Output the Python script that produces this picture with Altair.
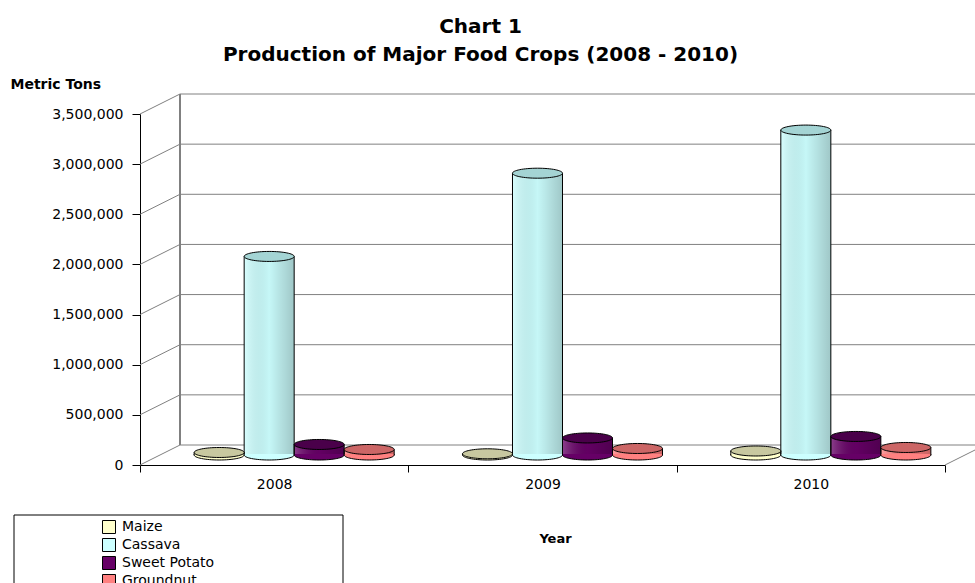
import altair as alt
import pandas as pd

# Production of major food crops, metric tons
years = ["2008", "2009", "2010"]
crops = ["Maize", "Cassava", "Sweet Potato", "Groundnut"]
maize = [25000, 12000, 40000]
cassava = [1980000, 2810000, 3240000]
sweet_potato = [105000, 170000, 185000]
groundnut = [55000, 65000, 75000]

crop_colors = ["#FFFFCC", "#CCFFFF", "#660066", "#FF8080"]
cap_colors = ["#C8C8A0", "#A4D4D4", "#4A004A", "#CC6666"]
y_ticks = [0, 500000, 1000000, 1500000, 2000000, 2500000, 3000000, 3500000]

series = {"Maize": maize, "Cassava": cassava,
          "Sweet Potato": sweet_potato, "Groundnut": groundnut}
df = pd.DataFrame([
    {"Year": y, "Crop": c, "Tons": vals[i]}
    for c, vals in series.items() for i, y in enumerate(years)
])
ticks_df = pd.DataFrame({"v": y_ticks})
one_df = pd.DataFrame({"k": [0]})

FONT = "DejaVu Sans"
W, H = 805, 351
DX, DY = 40, -20          # depth of the back wall
GREY = "#808080"

y_scale = alt.Scale(domain=[0, 3500000], nice=False, zero=True)
y_axis = alt.Axis(
    values=y_ticks, labelExpr="format(datum.value, ',')", grid=False,
    labelFont=FONT, labelFontSize=14, labelColor="black", labelPadding=9,
    tickColor="black", tickSize=8, domainColor="black",
    title="Metric Tons", titleAngle=0, titleAlign="left",
    titleBaseline="alphabetic", titleX=-130, titleY=-26,
    titleFont=FONT, titleFontSize=14, titleFontWeight="bold", titleColor="black",
)


def y_enc(field):
    return alt.Y(field, type="quantitative", scale=y_scale, axis=y_axis)


def y_datum(v):
    return alt.Y(datum=v, type="quantitative", scale=y_scale, axis=y_axis)


# back wall grid lines
grid = alt.Chart(ticks_df).mark_rule(color=GREY, strokeWidth=1, yOffset=DY).encode(
    x=alt.value(DX), x2=alt.value(W + 60), y=y_enc("v"))

# side wall: slanted lines joining the value axis to the back wall
side = alt.Chart(ticks_df).mark_rule(color=GREY, strokeWidth=1, y2Offset=DY).encode(
    x=alt.value(0), x2=alt.value(DX), y=y_enc("v"), y2="v:Q")

wall_edge = alt.Chart(one_df).mark_rule(
    color=GREY, strokeWidth=2, yOffset=DY, y2Offset=DY
).encode(x=alt.value(DX), y=y_datum(3500000), y2=alt.datum(0))

floor_right = alt.Chart(one_df).mark_rule(color=GREY, strokeWidth=1, y2Offset=DY).encode(
    x=alt.value(W), x2=alt.value(W + DX), y=y_datum(0), y2=alt.datum(0))

# category axis along the front of the floor
x_axis_layer = alt.Chart(df).mark_point(opacity=0).encode(
    x=alt.X("Year:N", scale=alt.Scale(paddingInner=0, paddingOuter=0),
            axis=alt.Axis(
                labelAngle=0, labelFont=FONT, labelFontSize=14, labelColor="black",
                labelPadding=5, tickBand="extent", tickSize=7, tickColor="black",
                domainColor="black", title="Year", titleFont=FONT, titleFontSize=13,
                titleFontWeight="bold", titleColor="black", titleX=415, titleY=67,
            )),
    y=alt.value(0),
)

# legend frame
legend_box = alt.Chart(one_df).mark_rect(fill="white", stroke="black", strokeWidth=1).encode(
    x=alt.value(-126), x2=alt.value(203), y=alt.value(401), y2=alt.value(500))

# cylinders: shifted half the depth into the plot
ellipse = "M -1 0 A 1 0.2 0 1 0 1 0 A 1 0.2 0 1 0 -1 0 Z"
lower_half = "M -1 -0.04 L -1 0 A 1 0.2 0 0 0 1 0 L 1 -0.04"
bx = alt.X("Year:N", scale=alt.Scale(range=[DX / 2, W + DX / 2], paddingInner=0, paddingOuter=0),
           axis=None)
bxo = alt.XOffset("Crop:N", sort=crops, scale=alt.Scale(paddingInner=0, paddingOuter=0.683))
color = alt.Color("Crop:N", sort=crops, scale=alt.Scale(domain=crops, range=crop_colors),
                  legend=alt.Legend(
                      orient="none", legendX=-38, legendY=406, title=None, padding=0,
                      symbolType="square", symbolSize=169, symbolStrokeColor="black",
                      symbolStrokeWidth=1, symbolOpacity=1, labelFont=FONT,
                      labelFontSize=14, labelColor="black", labelOffset=6, rowPadding=0,
                  ))

base = alt.Chart(df).encode(x=bx, xOffset=bxo)

body = base.mark_bar(yOffset=DY / 2).encode(y=y_enc("Tons"), color=color)

shade = base.mark_bar(yOffset=DY / 2, fill={
    "gradient": "linear", "x1": 0, "x2": 1, "y1": 0, "y2": 0,
    "stops": [
        {"offset": 0, "color": "rgba(255,255,255,0.25)"},
        {"offset": 0.5, "color": "rgba(0,0,0,0.03)"},
        {"offset": 1, "color": "rgba(0,0,0,0.22)"},
    ],
}).encode(y=y_enc("Tons"))

outline = base.mark_bar(yOffset=DY / 2, fillOpacity=0, stroke="black",
                        strokeWidth=1).encode(y=y_enc("Tons"))

bottom = base.mark_point(shape=lower_half, size=2500, filled=True, opacity=1,
                         stroke="black", strokeWidth=1, yOffset=DY / 2).encode(
    y=y_datum(0), color=color)

top = base.mark_point(shape=ellipse, size=2500, filled=True, opacity=1,
                      stroke="black", strokeWidth=1, yOffset=DY / 2).encode(
    y=y_enc("Tons"),
    fill=alt.Fill("Crop:N", sort=crops, scale=alt.Scale(domain=crops, range=cap_colors),
                  legend=None))

cylinders = alt.layer(body, shade, outline, bottom, top)

chart = alt.layer(
    legend_box, grid, side, wall_edge, floor_right, x_axis_layer, cylinders
).resolve_scale(x="independent").properties(
    width=W, height=H,
    autosize=alt.AutoSizeParams(type="none"),
    padding={"left": 140, "top": 114, "right": 30, "bottom": 118},
    background="white",
    title=alt.TitleParams(
        ["Chart 1", "Production of Major Food Crops (2008 - 2010)"],
        font=FONT, fontSize=20, fontWeight="bold", color="black",
        anchor="middle", dx=-62, lineHeight=28, offset=12,
    ),
).configure_view(stroke=None)

chart.save("out.html", embed_options={"renderer": "svg", "actions": False})
